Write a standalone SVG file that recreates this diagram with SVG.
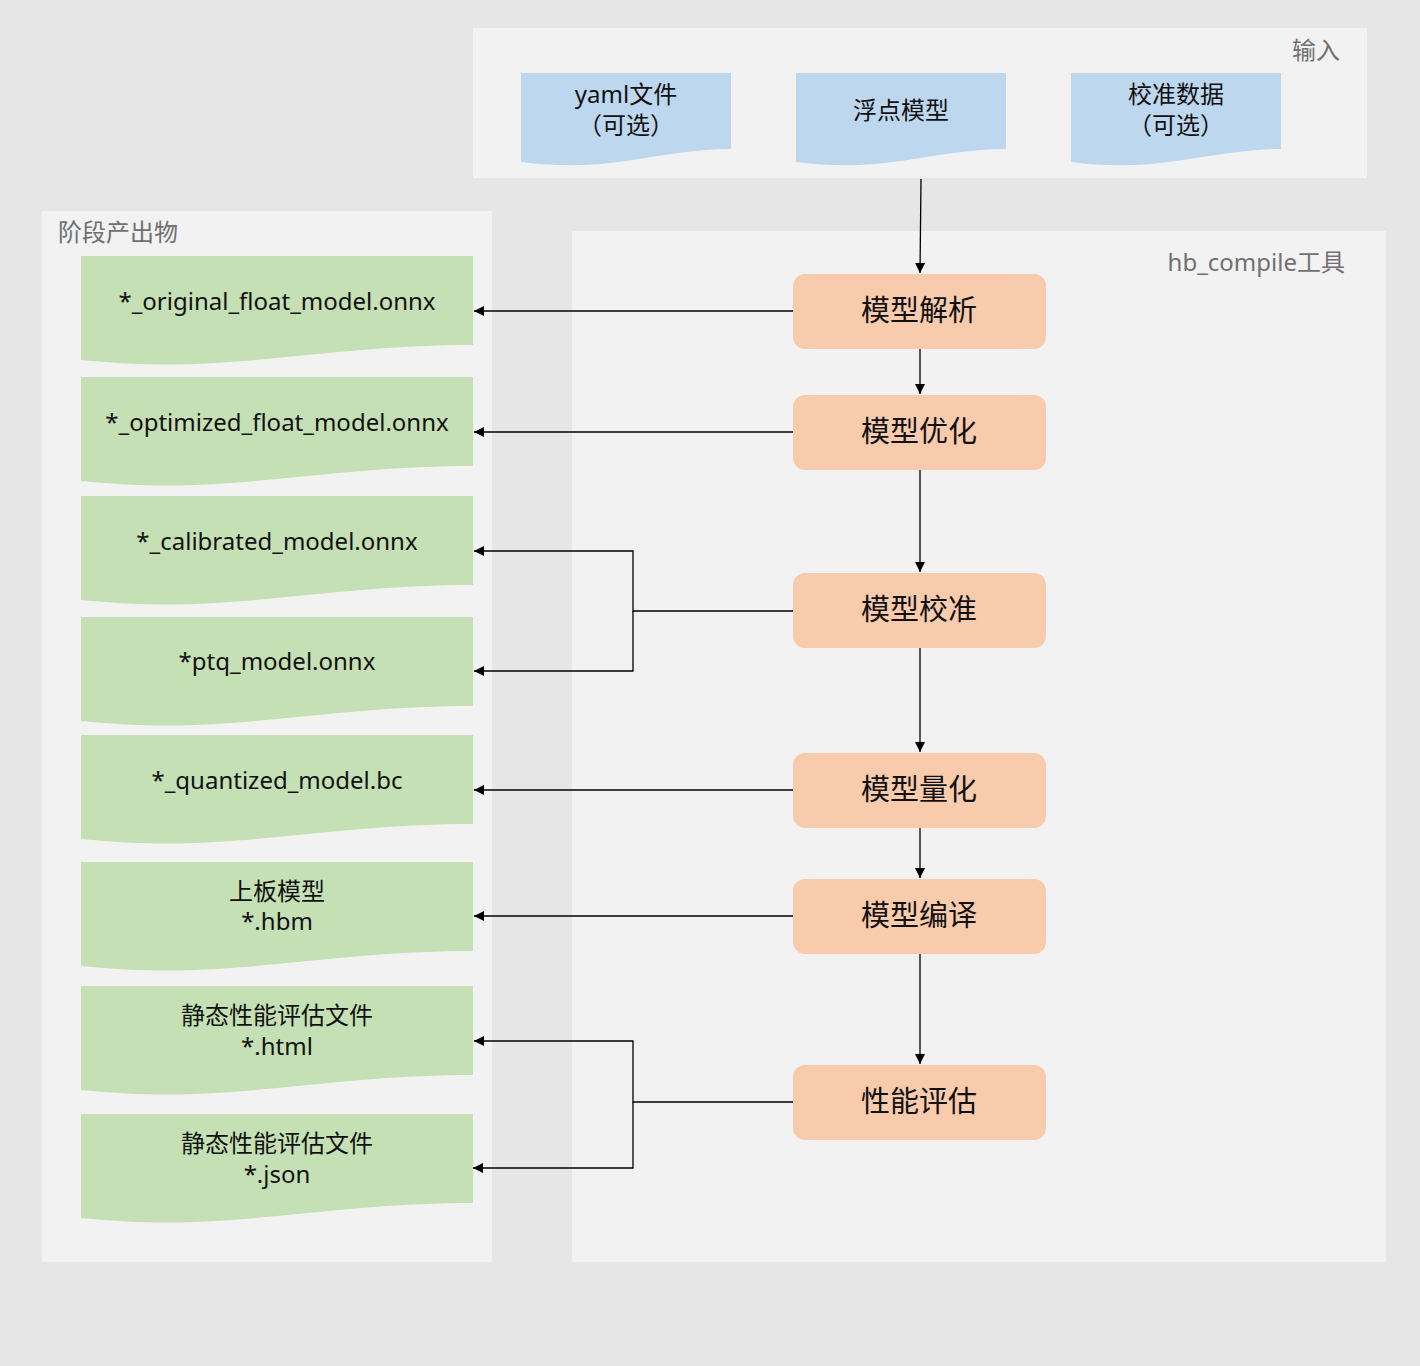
<svg xmlns="http://www.w3.org/2000/svg" xmlns:xlink="http://www.w3.org/1999/xlink" width="1420" height="1366" viewBox="0 0 1420 1366">
<style>
.bg{fill:#e6e6e6}
.cont{fill:#f2f2f2}
.clabel{font-family:"Noto Sans","Noto Sans CJK SC",sans-serif;font-size:24px;fill:#707070}
.doc-in{fill:#bdd7ee}
.doc-out{fill:#c5e0b4}
.dtext{font-family:"Noto Sans","Noto Sans CJK SC",sans-serif;font-size:24px;fill:#111;text-anchor:middle}
.proc{fill:#f8cbad}
.ptext{font-family:"Noto Sans","Noto Sans CJK SC",sans-serif;font-size:29px;fill:#111;text-anchor:middle}
.conn{fill:none;stroke:#000;stroke-width:1.3}
</style>
<defs>
<path id="docIn" d="M0,0 H210 V76 C175,76 145,82 105,88 C70,93 40,94 0,89 Z"/>
<path id="docOut" d="M0,0 H392 V89 C319,89 259,96 196,102 C134,108 79,112 0,104 Z"/>
<marker id="arr" viewBox="0 0 10 10" refX="10" refY="5" markerWidth="10" markerHeight="10" markerUnits="userSpaceOnUse" orient="auto">
<path d="M0,0 L10,5 L0,10 Z" fill="#000"/>
</marker>
</defs>
<rect class="bg" x="0" y="0" width="1420" height="1366"/>

<g id="input-container">
<rect class="cont" x="473" y="28" width="894" height="150"/>
<text class="clabel" x="1340" y="59" text-anchor="end">输入</text>
</g>
<g id="output-container">
<rect class="cont" x="42" y="211" width="450" height="1051"/>
<text class="clabel" x="58" y="241">阶段产出物</text>
</g>
<g id="tool-container">
<rect class="cont" x="572" y="231" width="814" height="1031"/>
<text class="clabel" x="1345" y="271" text-anchor="end">hb_compile工具</text>
</g>

<g id="in-yaml">
<use xlink:href="#docIn" class="doc-in" transform="translate(521,73)"/>
<text class="dtext" x="626" y="103">yaml文件</text>
<text class="dtext" x="626" y="134">（可选）</text>
</g>
<g id="in-float">
<use xlink:href="#docIn" class="doc-in" transform="translate(796,73)"/>
<text class="dtext" x="901" y="119">浮点模型</text>
</g>
<g id="in-calib">
<use xlink:href="#docIn" class="doc-in" transform="translate(1071,73)"/>
<text class="dtext" x="1176" y="103">校准数据</text>
<text class="dtext" x="1176" y="134">（可选）</text>
</g>

<g id="out-original">
<use xlink:href="#docOut" class="doc-out" transform="translate(81,256)"/>
<text class="dtext" x="277" y="310">*_original_float_model.onnx</text>
</g>
<g id="out-optimized">
<use xlink:href="#docOut" class="doc-out" transform="translate(81,377)"/>
<text class="dtext" x="277" y="431">*_optimized_float_model.onnx</text>
</g>
<g id="out-calibrated">
<use xlink:href="#docOut" class="doc-out" transform="translate(81,496)"/>
<text class="dtext" x="277" y="550">*_calibrated_model.onnx</text>
</g>
<g id="out-ptq">
<use xlink:href="#docOut" class="doc-out" transform="translate(81,617)"/>
<text class="dtext" x="277" y="670">*ptq_model.onnx</text>
</g>
<g id="out-quantized">
<use xlink:href="#docOut" class="doc-out" transform="translate(81,735)"/>
<text class="dtext" x="277" y="789">*_quantized_model.bc</text>
</g>
<g id="out-hbm">
<use xlink:href="#docOut" class="doc-out" transform="translate(81,862)"/>
<text class="dtext" x="277" y="900">上板模型</text>
<text class="dtext" x="277" y="930">*.hbm</text>
</g>
<g id="out-html">
<use xlink:href="#docOut" class="doc-out" transform="translate(81,986)"/>
<text class="dtext" x="277" y="1024">静态性能评估文件</text>
<text class="dtext" x="277" y="1055">*.html</text>
</g>
<g id="out-json">
<use xlink:href="#docOut" class="doc-out" transform="translate(81,1114)"/>
<text class="dtext" x="277" y="1152">静态性能评估文件</text>
<text class="dtext" x="277" y="1183">*.json</text>
</g>

<g id="p-parse">
<rect class="proc" x="793" y="274" width="253" height="75" rx="12"/>
<text class="ptext" x="919" y="321">模型解析</text>
</g>
<g id="p-opt">
<rect class="proc" x="793" y="395" width="253" height="75" rx="12"/>
<text class="ptext" x="919" y="442">模型优化</text>
</g>
<g id="p-calib">
<rect class="proc" x="793" y="573" width="253" height="75" rx="12"/>
<text class="ptext" x="919" y="620">模型校准</text>
</g>
<g id="p-quant">
<rect class="proc" x="793" y="753" width="253" height="75" rx="12"/>
<text class="ptext" x="919" y="800">模型量化</text>
</g>
<g id="p-compile">
<rect class="proc" x="793" y="879" width="253" height="75" rx="12"/>
<text class="ptext" x="919" y="926">模型编译</text>
</g>
<g id="p-perf">
<rect class="proc" x="793" y="1065" width="253" height="75" rx="12"/>
<text class="ptext" x="919" y="1112">性能评估</text>
</g>

<g id="connectors">
<path class="conn" d="M921,179 L920,273" marker-end="url(#arr)"/>
<path class="conn" d="M920,349 L920,394" marker-end="url(#arr)"/>
<path class="conn" d="M920,470 L920,572" marker-end="url(#arr)"/>
<path class="conn" d="M920,648 L920,752" marker-end="url(#arr)"/>
<path class="conn" d="M920,828 L920,878" marker-end="url(#arr)"/>
<path class="conn" d="M920,954 L920,1064" marker-end="url(#arr)"/>
<path class="conn" d="M793,311 L474,311" marker-end="url(#arr)"/>
<path class="conn" d="M793,432 L474,432" marker-end="url(#arr)"/>
<path class="conn" d="M793,611 L633,611 L633,551 L474,551" marker-end="url(#arr)"/>
<path class="conn" d="M633,611 L633,671 L474,671" marker-end="url(#arr)"/>
<path class="conn" d="M793,790 L474,790" marker-end="url(#arr)"/>
<path class="conn" d="M793,916 L474,916" marker-end="url(#arr)"/>
<path class="conn" d="M793,1102 L633,1102 L633,1041 L474,1041" marker-end="url(#arr)"/>
<path class="conn" d="M633,1102 L633,1168 L473,1168" marker-end="url(#arr)"/>
</g>
</svg>
